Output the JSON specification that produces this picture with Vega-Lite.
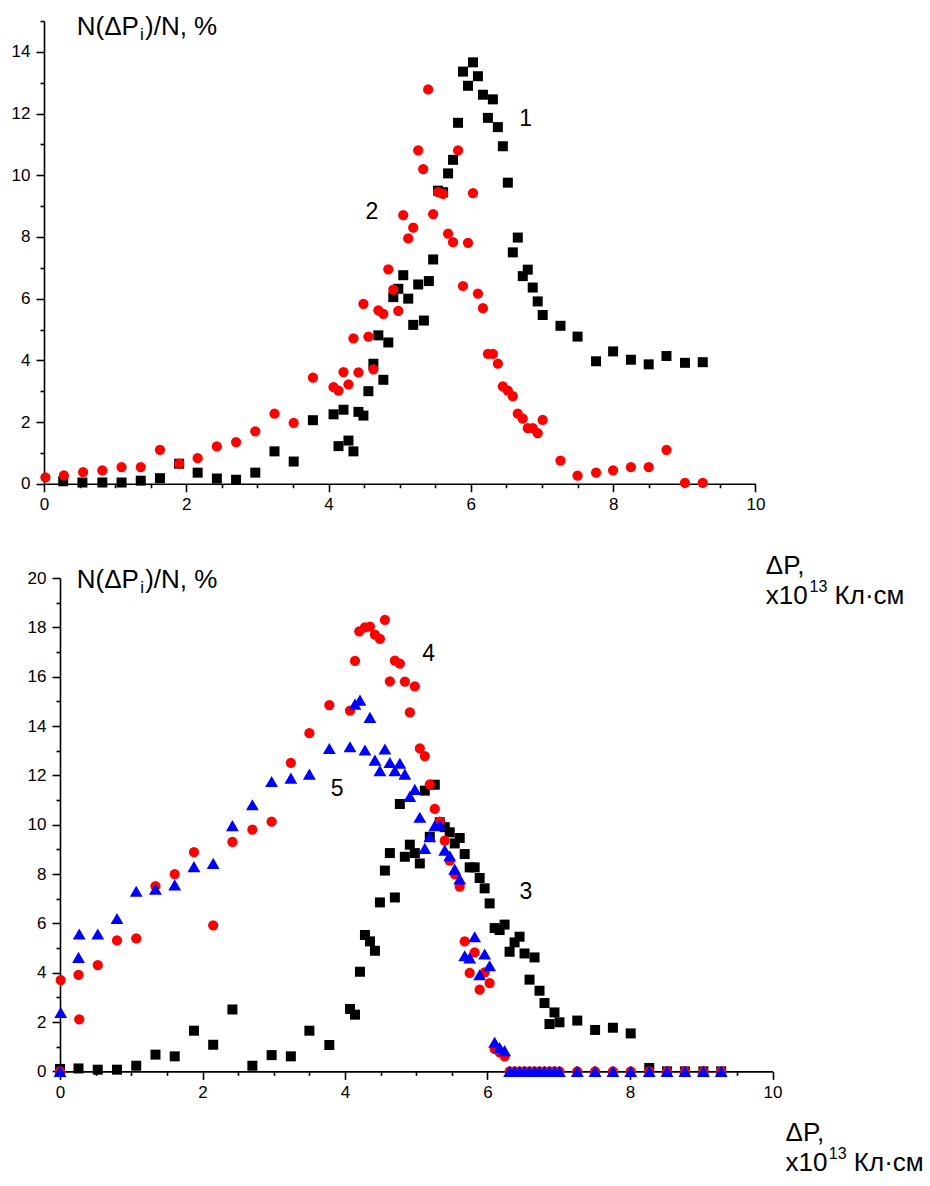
{
  "$schema": "https://vega.github.io/schema/vega-lite/v6.json",
  "background": "white",
  "padding": {"left": 11, "top": 12, "right": 5, "bottom": 5},
  "bounds": "flush",
  "spacing": 94,
  "datasets": {
    "top": [
      {"s":"1","x":0.27,"y":0.08},{"s":"1","x":0.54,"y":0.04},{"s":"1","x":0.82,"y":0.04},{"s":"1","x":1.09,"y":0.04},{"s":"1","x":1.36,"y":0.10},{"s":"1","x":1.63,"y":0.18},{"s":"1","x":1.90,"y":0.65},{"s":"1","x":2.16,"y":0.36},{"s":"1","x":2.43,"y":0.17},{"s":"1","x":2.70,"y":0.13},{"s":"1","x":2.97,"y":0.36},{"s":"1","x":3.24,"y":1.05},{"s":"1","x":3.51,"y":0.72},{"s":"1","x":3.78,"y":2.06},
      {"s":"1","x":4.07,"y":2.25},{"s":"1","x":4.14,"y":1.22},{"s":"1","x":4.21,"y":2.40},{"s":"1","x":4.28,"y":1.40},{"s":"1","x":4.35,"y":1.05},{"s":"1","x":4.42,"y":2.33},{"s":"1","x":4.49,"y":2.21},{"s":"1","x":4.56,"y":3.00},{"s":"1","x":4.63,"y":3.89},{"s":"1","x":4.70,"y":4.81},{"s":"1","x":4.77,"y":3.37},{"s":"1","x":4.84,"y":4.58},{"s":"1","x":4.91,"y":6.05},{"s":"1","x":4.98,"y":6.32},{"s":"1","x":5.05,"y":6.76},{"s":"1","x":5.12,"y":6.00},{"s":"1","x":5.19,"y":5.15},{"s":"1","x":5.26,"y":6.46},{"s":"1","x":5.34,"y":5.29},{"s":"1","x":5.41,"y":6.57},{"s":"1","x":5.47,"y":7.27},{"s":"1","x":5.54,"y":9.50},{"s":"1","x":5.61,"y":9.45},{"s":"1","x":5.68,"y":10.06},{"s":"1","x":5.75,"y":10.50},{"s":"1","x":5.82,"y":11.70},{"s":"1","x":5.89,"y":13.36},{"s":"1","x":5.96,"y":12.90},{"s":"1","x":6.03,"y":13.66},{"s":"1","x":6.10,"y":13.21},{"s":"1","x":6.17,"y":12.61},{"s":"1","x":6.24,"y":11.86},{"s":"1","x":6.31,"y":12.46},{"s":"1","x":6.38,"y":11.56},{"s":"1","x":6.45,"y":10.94},{"s":"1","x":6.52,"y":9.76},{"s":"1","x":6.59,"y":7.50},{"s":"1","x":6.66,"y":7.98},{"s":"1","x":6.73,"y":6.73},{"s":"1","x":6.80,"y":6.94},{"s":"1","x":6.87,"y":6.36},{"s":"1","x":6.94,"y":5.91},{"s":"1","x":7.01,"y":5.47},
      {"s":"1","x":7.26,"y":5.12},{"s":"1","x":7.50,"y":4.77},{"s":"1","x":7.76,"y":3.97},{"s":"1","x":8.00,"y":4.29},{"s":"1","x":8.25,"y":4.02},{"s":"1","x":8.50,"y":3.87},{"s":"1","x":8.75,"y":4.14},{"s":"1","x":9.01,"y":3.92},{"s":"1","x":9.26,"y":3.94},
      {"s":"2","x":0.02,"y":0.21},{"s":"2","x":0.28,"y":0.27},{"s":"2","x":0.55,"y":0.38},{"s":"2","x":0.82,"y":0.43},{"s":"2","x":1.09,"y":0.54},{"s":"2","x":1.36,"y":0.54},{"s":"2","x":1.63,"y":1.10},{"s":"2","x":1.90,"y":0.65},{"s":"2","x":2.16,"y":0.83},{"s":"2","x":2.43,"y":1.21},{"s":"2","x":2.70,"y":1.35},{"s":"2","x":2.97,"y":1.70},{"s":"2","x":3.24,"y":2.27},{"s":"2","x":3.51,"y":1.97},{"s":"2","x":3.78,"y":3.44},
      {"s":"2","x":4.07,"y":3.13},{"s":"2","x":4.14,"y":3.02},{"s":"2","x":4.21,"y":3.62},{"s":"2","x":4.28,"y":3.22},{"s":"2","x":4.35,"y":4.71},{"s":"2","x":4.42,"y":3.61},{"s":"2","x":4.49,"y":5.83},{"s":"2","x":4.56,"y":4.77},{"s":"2","x":4.63,"y":3.71},{"s":"2","x":4.70,"y":5.62},{"s":"2","x":4.77,"y":5.51},{"s":"2","x":4.84,"y":6.95},{"s":"2","x":4.91,"y":6.29},{"s":"2","x":4.98,"y":5.60},{"s":"2","x":5.05,"y":8.71},{"s":"2","x":5.12,"y":7.95},{"s":"2","x":5.19,"y":8.30},{"s":"2","x":5.26,"y":10.81},{"s":"2","x":5.33,"y":10.20},{"s":"2","x":5.40,"y":12.78},{"s":"2","x":5.47,"y":8.74},{"s":"2","x":5.54,"y":9.45},{"s":"2","x":5.61,"y":9.40},{"s":"2","x":5.68,"y":8.11},{"s":"2","x":5.75,"y":7.83},{"s":"2","x":5.82,"y":10.81},{"s":"2","x":5.89,"y":6.41},{"s":"2","x":5.96,"y":7.81},{"s":"2","x":6.03,"y":9.42},{"s":"2","x":6.10,"y":6.16},{"s":"2","x":6.17,"y":5.69},{"s":"2","x":6.24,"y":4.21},{"s":"2","x":6.31,"y":4.21},{"s":"2","x":6.38,"y":3.89},{"s":"2","x":6.45,"y":3.16},{"s":"2","x":6.52,"y":3.02},{"s":"2","x":6.59,"y":2.84},{"s":"2","x":6.66,"y":2.27},{"s":"2","x":6.73,"y":2.11},{"s":"2","x":6.80,"y":1.80},{"s":"2","x":6.87,"y":1.80},{"s":"2","x":6.94,"y":1.64},{"s":"2","x":7.01,"y":2.07},
      {"s":"2","x":7.26,"y":0.75},{"s":"2","x":7.50,"y":0.26},{"s":"2","x":7.76,"y":0.36},{"s":"2","x":8.00,"y":0.43},{"s":"2","x":8.25,"y":0.54},{"s":"2","x":8.50,"y":0.54},{"s":"2","x":8.75,"y":1.10},{"s":"2","x":9.01,"y":0.03},{"s":"2","x":9.26,"y":0.03}
    ],
    "bottom": [
      {"s":"3","x":0.00,"y":0.10},{"s":"3","x":0.26,"y":0.12},{"s":"3","x":0.53,"y":0.07},{"s":"3","x":0.80,"y":0.07},{"s":"3","x":1.07,"y":0.23},{"s":"3","x":1.34,"y":0.68},{"s":"3","x":1.61,"y":0.61},{"s":"3","x":1.88,"y":1.65},{"s":"3","x":2.15,"y":1.08},{"s":"3","x":2.42,"y":2.51},{"s":"3","x":2.70,"y":0.23},{"s":"3","x":2.97,"y":0.66},{"s":"3","x":3.24,"y":0.61},{"s":"3","x":3.50,"y":1.65},{"s":"3","x":3.78,"y":1.07},
      {"s":"3","x":4.07,"y":2.53},{"s":"3","x":4.14,"y":2.30},{"s":"3","x":4.21,"y":4.04},{"s":"3","x":4.28,"y":5.53},{"s":"3","x":4.35,"y":5.27},{"s":"3","x":4.42,"y":4.89},{"s":"3","x":4.49,"y":6.85},{"s":"3","x":4.56,"y":8.14},{"s":"3","x":4.63,"y":8.85},{"s":"3","x":4.70,"y":7.05},{"s":"3","x":4.77,"y":10.84},{"s":"3","x":4.84,"y":8.70},{"s":"3","x":4.91,"y":9.19},{"s":"3","x":4.98,"y":8.85},{"s":"3","x":5.05,"y":8.43},{"s":"3","x":5.12,"y":11.38},{"s":"3","x":5.19,"y":9.51},{"s":"3","x":5.26,"y":11.62},{"s":"3","x":5.33,"y":10.10},{"s":"3","x":5.40,"y":9.90},{"s":"3","x":5.47,"y":9.69},{"s":"3","x":5.54,"y":9.24},{"s":"3","x":5.61,"y":9.46},{"s":"3","x":5.68,"y":8.81},{"s":"3","x":5.75,"y":8.27},{"s":"3","x":5.82,"y":8.27},{"s":"3","x":5.89,"y":7.84},{"s":"3","x":5.96,"y":7.42},{"s":"3","x":6.03,"y":6.81},{"s":"3","x":6.10,"y":5.81},{"s":"3","x":6.17,"y":5.73},{"s":"3","x":6.24,"y":5.95},{"s":"3","x":6.31,"y":4.85},{"s":"3","x":6.38,"y":5.23},{"s":"3","x":6.45,"y":5.46},{"s":"3","x":6.52,"y":4.78},{"s":"3","x":6.59,"y":3.72},{"s":"3","x":6.66,"y":4.62},{"s":"3","x":6.73,"y":3.27},{"s":"3","x":6.80,"y":2.77},{"s":"3","x":6.87,"y":1.92},{"s":"3","x":6.94,"y":2.39},{"s":"3","x":7.01,"y":1.99},
      {"s":"3","x":7.26,"y":2.06},{"s":"3","x":7.51,"y":1.68},{"s":"3","x":7.76,"y":1.77},{"s":"3","x":8.01,"y":1.54},{"s":"3","x":8.27,"y":0.14},{"s":"3","x":8.52,"y":0},{"s":"3","x":8.77,"y":0},{"s":"3","x":9.03,"y":0},{"s":"3","x":9.28,"y":0},
      {"s":"4","x":0.00,"y":0},{"s":"4","x":0.01,"y":3.70},{"s":"4","x":0.26,"y":3.91},{"s":"4","x":0.27,"y":2.11},{"s":"4","x":0.53,"y":4.31},{"s":"4","x":0.80,"y":5.31},{"s":"4","x":1.07,"y":5.39},{"s":"4","x":1.34,"y":7.51},{"s":"4","x":1.61,"y":8.00},{"s":"4","x":1.88,"y":8.89},{"s":"4","x":2.15,"y":5.92},{"s":"4","x":2.42,"y":9.30},{"s":"4","x":2.70,"y":9.80},{"s":"4","x":2.97,"y":10.12},{"s":"4","x":3.24,"y":12.51},{"s":"4","x":3.50,"y":13.71},{"s":"4","x":3.78,"y":14.85},
      {"s":"4","x":4.07,"y":14.62},{"s":"4","x":4.14,"y":16.64},{"s":"4","x":4.20,"y":17.84},{"s":"4","x":4.28,"y":18.00},{"s":"4","x":4.35,"y":18.03},{"s":"4","x":4.42,"y":17.70},{"s":"4","x":4.49,"y":17.53},{"s":"4","x":4.56,"y":18.30},{"s":"4","x":4.63,"y":15.81},{"s":"4","x":4.70,"y":16.65},{"s":"4","x":4.77,"y":16.53},{"s":"4","x":4.84,"y":15.80},{"s":"4","x":4.91,"y":14.55},{"s":"4","x":4.98,"y":15.61},{"s":"4","x":5.05,"y":13.09},{"s":"4","x":5.12,"y":12.78},{"s":"4","x":5.19,"y":11.63},{"s":"4","x":5.26,"y":10.64},{"s":"4","x":5.33,"y":10.12},{"s":"4","x":5.40,"y":9.35},{"s":"4","x":5.47,"y":8.54},{"s":"4","x":5.54,"y":8.00},{"s":"4","x":5.61,"y":7.49},{"s":"4","x":5.68,"y":5.27},{"s":"4","x":5.75,"y":3.99},{"s":"4","x":5.82,"y":4.82},{"s":"4","x":5.89,"y":3.31},{"s":"4","x":5.96,"y":4.01},{"s":"4","x":6.03,"y":3.58},{"s":"4","x":6.10,"y":0.91},{"s":"4","x":6.17,"y":0.77},{"s":"4","x":6.24,"y":0.61},
      {"s":"4","x":6.31,"y":0},{"s":"4","x":6.38,"y":0},{"s":"4","x":6.45,"y":0},{"s":"4","x":6.52,"y":0},{"s":"4","x":6.59,"y":0},{"s":"4","x":6.66,"y":0},{"s":"4","x":6.73,"y":0},{"s":"4","x":6.80,"y":0},{"s":"4","x":6.87,"y":0},{"s":"4","x":6.94,"y":0},{"s":"4","x":7.01,"y":0},{"s":"4","x":7.26,"y":0},{"s":"4","x":7.51,"y":0},{"s":"4","x":7.76,"y":0},{"s":"4","x":8.01,"y":0},{"s":"4","x":8.27,"y":0},{"s":"4","x":8.52,"y":0},{"s":"4","x":8.77,"y":0},{"s":"4","x":9.03,"y":0},{"s":"4","x":9.28,"y":0},
      {"s":"5","x":0.00,"y":0},{"s":"5","x":0.01,"y":2.39},{"s":"5","x":0.26,"y":4.62},{"s":"5","x":0.27,"y":5.57},{"s":"5","x":0.53,"y":5.57},{"s":"5","x":0.80,"y":6.20},{"s":"5","x":1.07,"y":7.30},{"s":"5","x":1.34,"y":7.39},{"s":"5","x":1.61,"y":7.56},{"s":"5","x":1.88,"y":8.30},{"s":"5","x":2.15,"y":8.43},{"s":"5","x":2.42,"y":9.96},{"s":"5","x":2.70,"y":10.81},{"s":"5","x":2.97,"y":11.75},{"s":"5","x":3.24,"y":11.89},{"s":"5","x":3.50,"y":12.05},{"s":"5","x":3.78,"y":13.09},
      {"s":"5","x":4.07,"y":13.16},{"s":"5","x":4.14,"y":14.89},{"s":"5","x":4.21,"y":15.05},{"s":"5","x":4.28,"y":13.03},{"s":"5","x":4.35,"y":14.35},{"s":"5","x":4.42,"y":12.62},{"s":"5","x":4.49,"y":12.19},{"s":"5","x":4.56,"y":13.07},{"s":"5","x":4.63,"y":12.52},{"s":"5","x":4.70,"y":12.19},{"s":"5","x":4.77,"y":12.49},{"s":"5","x":4.84,"y":12.05},{"s":"5","x":4.91,"y":11.15},{"s":"5","x":4.98,"y":11.43},{"s":"5","x":5.05,"y":10.30},{"s":"5","x":5.12,"y":9.04},{"s":"5","x":5.19,"y":9.51},{"s":"5","x":5.26,"y":9.96},{"s":"5","x":5.33,"y":10.00},{"s":"5","x":5.40,"y":8.97},{"s":"5","x":5.47,"y":8.74},{"s":"5","x":5.54,"y":8.20},{"s":"5","x":5.61,"y":7.80},{"s":"5","x":5.68,"y":4.69},{"s":"5","x":5.75,"y":4.60},{"s":"5","x":5.82,"y":5.46},{"s":"5","x":5.89,"y":3.92},{"s":"5","x":5.96,"y":4.76},{"s":"5","x":6.03,"y":4.28},{"s":"5","x":6.10,"y":1.18},{"s":"5","x":6.17,"y":0.97},{"s":"5","x":6.24,"y":0.84},
      {"s":"5","x":6.31,"y":0},{"s":"5","x":6.38,"y":0},{"s":"5","x":6.45,"y":0},{"s":"5","x":6.52,"y":0},{"s":"5","x":6.59,"y":0},{"s":"5","x":6.66,"y":0},{"s":"5","x":6.73,"y":0},{"s":"5","x":6.80,"y":0},{"s":"5","x":6.87,"y":0},{"s":"5","x":6.94,"y":0},{"s":"5","x":7.01,"y":0},{"s":"5","x":7.26,"y":0},{"s":"5","x":7.51,"y":0},{"s":"5","x":7.76,"y":0},{"s":"5","x":8.01,"y":0},{"s":"5","x":8.27,"y":0},{"s":"5","x":8.52,"y":0},{"s":"5","x":8.77,"y":0},{"s":"5","x":9.03,"y":0},{"s":"5","x":9.28,"y":0}
    ],
    "topText": [
      {"k":"num","t":"1","x":6.77,"y":11.61},
      {"k":"num","t":"2","x":4.61,"y":8.59},
      {"k":"title","t":"N(ΔP","x":0.46,"y":14.55},
      {"k":"sub","t":"i","x":1.35,"y":14.39},
      {"k":"title","t":")/N, %","x":1.42,"y":14.55}
    ],
    "botText": [
      {"k":"num","t":"3","x":6.538,"y":6.99},
      {"k":"num","t":"4","x":5.175,"y":16.65},
      {"k":"num","t":"5","x":3.89,"y":11.18},
      {"k":"title","t":"N(ΔP","x":0.236,"y":19.58},
      {"k":"sub","t":"i","x":1.126,"y":19.375},
      {"k":"title","t":")/N, %","x":1.196,"y":19.58},
      {"k":"title","t":"ΔP,","x":9.906,"y":20.162},
      {"k":"title","t":"x10","x":9.906,"y":18.946},
      {"k":"sup","t":"13","x":10.521,"y":19.416},
      {"k":"title","t":"Кл·см","x":10.871,"y":18.946},
      {"k":"title","t":"ΔP,","x":10.184,"y":-2.809},
      {"k":"title","t":"x10","x":10.184,"y":-4.025},
      {"k":"sup","t":"13","x":10.791,"y":-3.55},
      {"k":"title","t":"Кл·см","x":11.142,"y":-4.025}
    ]
  },
  "vconcat": [
    {
      "width": 711.4,
      "height": 462.75,
      "encoding": {
        "x": {"field": "x", "type": "quantitative",
          "scale": {"domain": [0, 10], "nice": false, "zero": false},
          "axis": {"values": [0,0.5,1,1.5,2,2.5,3,3.5,4,4.5,5,5.5,6,6.5,7,7.5,8,8.5,9,9.5,10],
            "labelExpr": "datum.value % 2 === 0 ? format(datum.value, 'd') : ''",
            "tickSize": {"condition": {"test": "datum.value % 2 === 0", "value": 8}, "value": 4},
            "labelPadding": 5}},
        "y": {"field": "y", "type": "quantitative",
          "scale": {"domain": [0, 15], "nice": false, "zero": false},
          "axis": {"values": [0,1,2,3,4,5,6,7,8,9,10,11,12,13,14,15],
            "labelExpr": "datum.value % 2 === 0 ? format(datum.value, 'd') : ''",
            "tickSize": {"condition": {"test": "datum.value % 2 === 0", "value": 8}, "value": 4},
            "labelPadding": 6}}
      },
      "layer": [
        {"data": {"name": "top"}, "transform": [{"filter": "datum.s === '1'"}],
         "mark": {"type": "point", "shape": "square", "filled": true, "opacity": 1, "color": "#000000", "size": 100, "strokeWidth": 0}},
        {"data": {"name": "top"}, "transform": [{"filter": "datum.s === '2'"}],
         "mark": {"type": "point", "shape": "circle", "filled": true, "opacity": 1, "color": "#ff0000", "size": 105, "strokeWidth": 0}},
        {"data": {"name": "topText"}, "transform": [{"filter": "datum.k === 'num'"}],
         "mark": {"type": "text", "align": "center", "baseline": "alphabetic", "fontSize": 23, "color": "#000000"},
         "encoding": {"text": {"field": "t"}}},
        {"data": {"name": "topText"}, "transform": [{"filter": "datum.k === 'title'"}],
         "mark": {"type": "text", "align": "left", "baseline": "alphabetic", "fontSize": 26, "color": "#000000"},
         "encoding": {"text": {"field": "t"}}},
        {"data": {"name": "topText"}, "transform": [{"filter": "datum.k === 'sub'"}],
         "mark": {"type": "text", "align": "left", "baseline": "alphabetic", "fontSize": 17, "color": "#000000"},
         "encoding": {"text": {"field": "t"}}}
      ]
    },
    {
      "width": 728.5,
      "height": 493.4,
      "encoding": {
        "x": {"field": "x", "type": "quantitative",
          "scale": {"domain": [0, 10], "nice": false, "zero": false, "rangeMin": 16},
          "axis": {"values": [0,0.5,1,1.5,2,2.5,3,3.5,4,4.5,5,5.5,6,6.5,7,7.5,8,8.5,9,9.5,10],
            "labelExpr": "datum.value % 2 === 0 ? format(datum.value, 'd') : ''",
            "tickSize": {"condition": {"test": "datum.value % 2 === 0", "value": 8}, "value": 4},
            "labelPadding": 5}},
        "y": {"field": "y", "type": "quantitative",
          "scale": {"domain": [0, 20], "nice": false, "zero": false},
          "axis": {"values": [0,1,2,3,4,5,6,7,8,9,10,11,12,13,14,15,16,17,18,19,20],
            "labelExpr": "datum.value % 2 === 0 ? format(datum.value, 'd') : ''",
            "tickSize": {"condition": {"test": "datum.value % 2 === 0", "value": 8}, "value": 4},
            "labelPadding": 6, "offset": -16}}
      },
      "layer": [
        {"data": {"name": "bottom"}, "transform": [{"filter": "datum.s === '3'"}],
         "mark": {"type": "point", "shape": "square", "filled": true, "opacity": 1, "color": "#000000", "size": 100, "strokeWidth": 0}},
        {"data": {"name": "bottom"}, "transform": [{"filter": "datum.s === '4'"}],
         "mark": {"type": "point", "shape": "circle", "filled": true, "opacity": 1, "color": "#ff0000", "size": 105, "strokeWidth": 0}},
        {"data": {"name": "bottom"}, "transform": [{"filter": "datum.s === '5'"}],
         "mark": {"type": "point", "shape": "triangle-up", "filled": true, "opacity": 1, "color": "#0000ff", "size": 165, "strokeWidth": 0}},
        {"data": {"name": "botText"}, "transform": [{"filter": "datum.k === 'num'"}],
         "mark": {"type": "text", "align": "center", "baseline": "alphabetic", "fontSize": 23, "color": "#000000"},
         "encoding": {"text": {"field": "t"}}},
        {"data": {"name": "botText"}, "transform": [{"filter": "datum.k === 'title'"}],
         "mark": {"type": "text", "align": "left", "baseline": "alphabetic", "fontSize": 26, "color": "#000000"},
         "encoding": {"text": {"field": "t"}}},
        {"data": {"name": "botText"}, "transform": [{"filter": "datum.k === 'sub'"}],
         "mark": {"type": "text", "align": "left", "baseline": "alphabetic", "fontSize": 17, "color": "#000000"},
         "encoding": {"text": {"field": "t"}}},
        {"data": {"name": "botText"}, "transform": [{"filter": "datum.k === 'sup'"}],
         "mark": {"type": "text", "align": "left", "baseline": "alphabetic", "fontSize": 16, "color": "#000000"},
         "encoding": {"text": {"field": "t"}}}
      ]
    }
  ],
  "config": {
    "font": "Liberation Sans",
    "view": {"stroke": null},
    "axis": {
      "title": null,
      "grid": false,
      "domainColor": "#000000",
      "domainWidth": 1.6,
      "tickColor": "#000000",
      "tickWidth": 1.6,
      "labelColor": "#000000",
      "labelFont": "Liberation Sans",
      "labelFontSize": 17,
      "labelFlush": false,
      "labelOverlap": false
    }
  }
}
